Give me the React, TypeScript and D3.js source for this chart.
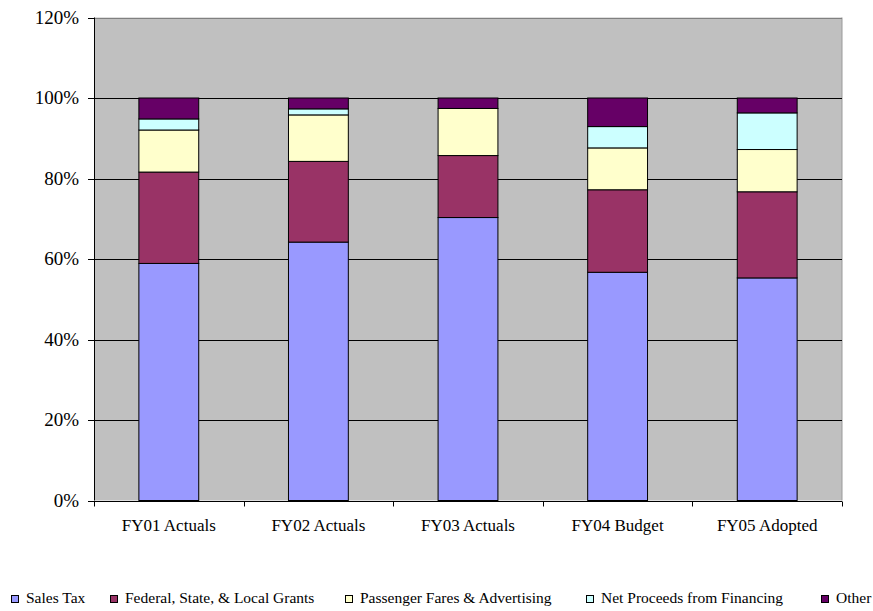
import React from "react";
import * as d3 from "d3";

// Fiscal years shown along the x axis
const categories = ["FY01 Actuals", "FY02 Actuals", "FY03 Actuals", "FY04 Budget", "FY05 Adopted"];

// Revenue share by source, in percent of total
const salesTax = [58.9, 64.2, 70.3, 56.7, 55.3];
const grants = [22.7, 20.05, 15.4, 20.5, 21.4];
const fares = [10.45, 11.55, 11.7, 10.4, 10.5];
const financing = [2.75, 1.5, 0, 5.3, 9.1];
const other = [5.2, 2.7, 2.6, 7.1, 3.7];

const seriesNames = [
  "Sales Tax",
  "Federal, State, & Local Grants",
  "Passenger Fares & Advertising",
  "Net Proceeds from Financing",
  "Other",
];
const seriesColors = ["#9999FF", "#993366", "#FFFFCC", "#CCFFFF", "#660066"];
const yTicks = [0, 20, 40, 60, 80, 100, 120];

const W = 873;
const H = 611;
const plot = { left: 94, right: 842, top: 17.5, bottom: 500.5 };
const FONT = "'Liberation Serif', 'Times New Roman', serif";

// Horizontal placement of each legend entry (square's left edge)
const legendX = [11, 110, 345, 586, 821];

export default function App() {
  const values = [salesTax, grants, fares, financing, other];

  const rows = categories.map((c, i) => {
    const r: Record<string, number | string> = { category: c };
    seriesNames.forEach((s, k) => (r[s] = values[k][i]));
    return r;
  });

  const stack = d3.stack<Record<string, number | string>>().keys(seriesNames)(rows as any);

  const x = d3
    .scaleBand<string>()
    .domain(categories)
    .range([plot.left, plot.right])
    .paddingInner(0.6)
    .paddingOuter(0.3);

  const y = d3.scaleLinear().domain([0, 120]).range([plot.bottom, plot.top]);
  const step = x.step();
  const crisp = (v: number) => Math.round(v) + 0.5;

  return (
    <div style={{ position: "absolute", left: 0, top: 0 }}>
      <svg width={W} height={H} style={{ display: "block", background: "#fff" }}>
        {/* plot background */}
        <rect
          x={plot.left}
          y={plot.top}
          width={plot.right - plot.left}
          height={plot.bottom - plot.top}
          fill="#C0C0C0"
        />
        {/* right and top frame */}
        <line x1={plot.right} x2={plot.right} y1={plot.top} y2={plot.bottom} stroke="#9a9a9a" strokeWidth={1} />
        <line x1={plot.left} x2={plot.right} y1={crisp(y(120))} y2={crisp(y(120))} stroke="#808080" strokeWidth={1} />

        {/* horizontal gridlines */}
        {yTicks.filter((t) => t > 0 && t < 120).map((t) => (
          <line
            key={t}
            x1={plot.left}
            x2={plot.right}
            y1={crisp(y(t))}
            y2={crisp(y(t))}
            stroke="#000"
            strokeWidth={1}
          />
        ))}

        {/* stacked bars */}
        {stack.map((layer, k) => (
          <g key={seriesNames[k]} fill={seriesColors[k]} stroke="#000" strokeWidth={1}>
            {layer.map((d, i) => {
              if (d[1] - d[0] <= 0) return null;
              const x0 = x(categories[i]) as number;
              return (
                <rect
                  key={i}
                  x={x0}
                  y={y(d[1])}
                  width={x.bandwidth()}
                  height={y(d[0]) - y(d[1])}
                />
              );
            })}
          </g>
        ))}

        {/* y axis */}
        <line x1={crisp(plot.left)} x2={crisp(plot.left)} y1={plot.top} y2={plot.bottom} stroke="#000" />
        {yTicks.map((t) => (
          <g key={t}>
            <line x1={plot.left - 6} x2={plot.left} y1={crisp(y(t))} y2={crisp(y(t))} stroke="#000" />
            <text
              x={79}
              y={y(t)}
              dy="0.34em"
              textAnchor="end"
              fontFamily={FONT}
              fontSize={19}
              fill="#000"
            >
              {t}%
            </text>
          </g>
        ))}

        {/* x axis */}
        <line x1={plot.left} x2={plot.right} y1={crisp(y(0))} y2={crisp(y(0))} stroke="#000" />
        {d3.range(categories.length + 1).map((i) => (
          <line
            key={i}
            x1={crisp(plot.left + i * step)}
            x2={crisp(plot.left + i * step)}
            y1={crisp(y(0))}
            y2={crisp(y(0)) + 5}
            stroke="#000"
          />
        ))}
        {categories.map((c) => (
          <text
            key={c}
            x={(x(c) as number) + x.bandwidth() / 2}
            y={531}
            textAnchor="middle"
            fontFamily={FONT}
            fontSize={17}
            fill="#000"
          >
            {c}
          </text>
        ))}

        {/* legend */}
        {seriesNames.map((s, k) => (
          <g key={s}>
            <rect x={legendX[k] + 0.5} y={595.5} width={7} height={7} fill={seriesColors[k]} stroke="#000" />
            <text x={legendX[k] + 15} y={603} fontFamily={FONT} fontSize={15.5} fill="#000">
              {s}
            </text>
          </g>
        ))}
      </svg>
    </div>
  );
}
